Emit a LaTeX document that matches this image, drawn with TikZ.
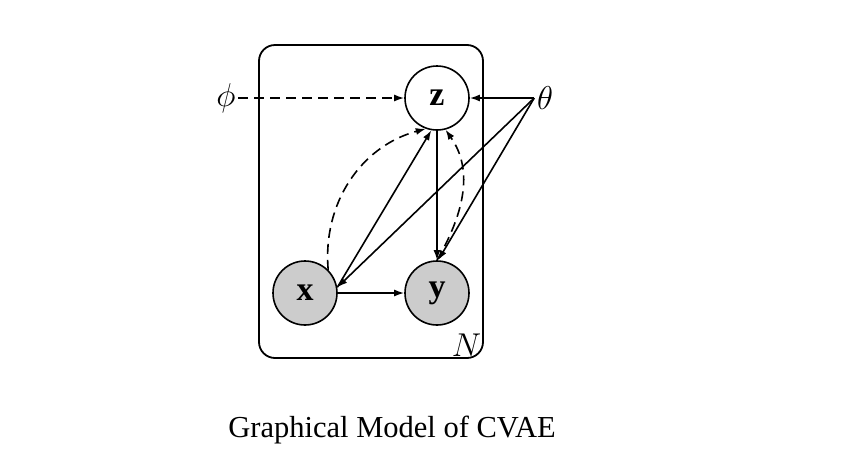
\RequirePackage{fix-cm}
\documentclass[tikz,border=0pt]{standalone}
\usepackage{fontspec}
\setmainfont{Liberation Serif}
\usetikzlibrary{arrows.meta}

\tikzset{
  latent/.style={circle,draw,line width=1.6pt,minimum size=64pt,inner sep=0pt,fill=white,font=\fontsize{34}{40}\selectfont},
  obs/.style={latent,fill=gray!40},
  param/.style={inner sep=2pt,font=\fontsize{33}{40}\selectfont},
  plate/.style={draw,line width=1.8pt,rounded corners=16pt,minimum width=224pt,minimum height=313pt},
  infer/.style={->,dash pattern=on 10pt off 6pt}
}

\begin{document}
\begin{tikzpicture}[x=1pt,y=-1pt,>={Latex[length=10pt,width=7pt]},line width=1.6pt]
        \useasboundingbox (0,0) rectangle (844,464);

        % draw the plate
        \node[plate] (plate) at (371,201.5) {};
        \node[param,anchor=south east] (N) at (plate.south east) {$N$};

        % draw the variables
        \node[latent] (z) at (437,98) {$\mathbf{z}$};
        \node[obs] (x) at (305,293) {$\mathbf{x}$};
        \node[obs] (y) at (437,293) {$\mathbf{y}$};

        % draw the parameters
        \node[param] (phi) at (226,98) {$\phi$};
        \node[param] (theta) at (545,98) {$\theta$};

        % generative edges
        \draw[->] (theta.west) -- (z);
        \draw[->] (theta.west) -- (x.10);
        \draw[->] (theta.west) -- (y.88);
        \draw[->] (x.10) -- (z.260);
        \draw[->] (x) -- (y);
        \draw[->] (z) -- (y);

        % inference edges
        \draw[infer] (phi) -- (z);
        \draw[infer] (x.45) to[out=95,in=195] (z.250);
        \draw[infer] (y.north) to[out=60,in=-55] (z.285);

        % the caption
        \node[font=\fontsize{30.5}{36}\selectfont,anchor=base] (caption) at (392,437) {Graphical Model of CVAE};
\end{tikzpicture}
\end{document}
